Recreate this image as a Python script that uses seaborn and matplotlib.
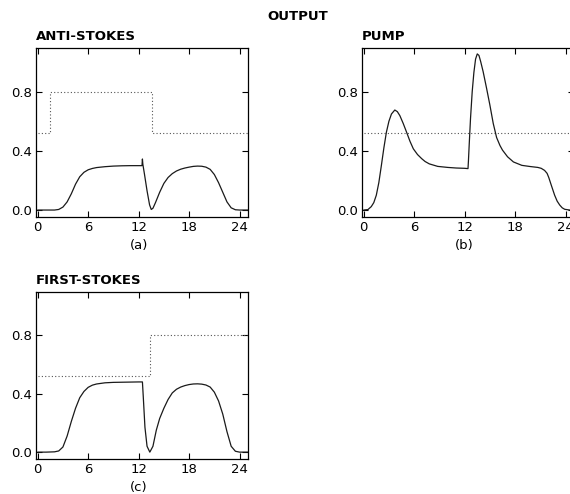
import matplotlib
matplotlib.use("Agg")
import matplotlib.pyplot as plt
import seaborn as sns

# Time axis labels / ticks
x_ticks = [0, 6, 12, 18, 24]
y_ticks = [0.0, 0.4, 0.8]
y_tick_labels = ["0.0", "0.4", "0.8"]

# (a) anti-Stokes output
as_t = [0, 1, 2, 2.5, 3, 3.5, 4, 4.5, 5, 5.5, 6, 6.5, 7, 8, 9, 10, 11, 12,
        12.4, 12.45, 12.5, 12.7, 13.0, 13.3, 13.5, 13.7, 14.0, 14.5, 15,
        15.5, 16, 16.5, 17, 17.5, 18, 18.5, 19, 19.5, 20, 20.5, 21, 21.5,
        22, 22.5, 23, 23.5, 24, 25]
as_v = [0, 0, 0, 0.004, 0.02, 0.055, 0.11, 0.175, 0.225, 0.255, 0.272, 0.281,
        0.287, 0.293, 0.297, 0.299, 0.3, 0.3,
        0.3, 0.345, 0.31, 0.24, 0.13, 0.035, 0.004, 0.012, 0.05, 0.12, 0.18,
        0.22, 0.246, 0.264, 0.276, 0.284, 0.29, 0.295, 0.297, 0.296, 0.29,
        0.275, 0.24, 0.185, 0.12, 0.055, 0.015, 0.002, 0, 0]
as_ref_t = [0, 1.5, 13.6, 25]
as_ref_v = [0.52, 0.80, 0.52, 0.52]

# (b) pump output
pp_t = [0, 0.5, 0.9, 1.2, 1.5, 1.8, 2.1, 2.4, 2.7, 3.0, 3.3, 3.7, 4.0, 4.3,
        4.7, 5.1, 5.5, 5.9, 6.4, 6.9, 7.3, 7.8, 8.8, 10, 11, 12.0, 12.4,
        12.45, 12.55, 12.7, 12.9, 13.1, 13.3, 13.5, 13.7, 13.9, 14.2, 14.6,
        15.0, 15.4, 15.8, 16.2, 16.5, 17.1, 17.8, 18.8, 19.8, 20.7, 21.1,
        21.5, 21.8, 22.0, 22.3, 22.7, 23.0, 23.3, 23.6, 23.9, 24.5, 25]
pp_v = [0, 0.003, 0.023, 0.05, 0.10, 0.185, 0.30, 0.42, 0.526, 0.60, 0.649,
        0.676, 0.665, 0.638, 0.585, 0.526, 0.465, 0.414, 0.375, 0.347, 0.328,
        0.312, 0.295, 0.288, 0.284, 0.282, 0.28,
        0.33, 0.45, 0.62, 0.80, 0.93, 1.02, 1.055, 1.045, 1.005, 0.935, 0.825,
        0.71, 0.585, 0.49, 0.436, 0.405, 0.36, 0.325, 0.302, 0.294, 0.288,
        0.282, 0.268, 0.248, 0.22, 0.168, 0.10, 0.06, 0.034, 0.015, 0.005, 0,
        0]
pp_ref_t = [0, 25]
pp_ref_v = [0.52, 0.52]

# (c) first-Stokes output
fs_t = [0, 1, 2, 2.5, 3, 3.5, 4, 4.5, 5, 5.5, 6, 6.5, 7, 8, 9, 10, 11, 12,
        12.45, 12.55, 12.75, 13.0, 13.33, 13.7, 14.1, 14.5, 15, 15.5, 16,
        16.5, 17, 17.5, 18, 18.5, 19, 19.5, 20, 20.5, 21, 21.5, 22, 22.5,
        23, 23.5, 24, 25]
fs_v = [0, 0, 0.002, 0.008, 0.035, 0.11, 0.21, 0.30, 0.372, 0.415, 0.443,
        0.458, 0.466, 0.474, 0.477, 0.478, 0.479, 0.48,
        0.48, 0.38, 0.17, 0.04, 0, 0.04, 0.15, 0.23, 0.3, 0.36, 0.405, 0.43,
        0.445, 0.455, 0.462, 0.466, 0.467, 0.465, 0.459, 0.445, 0.41, 0.35,
        0.26, 0.14, 0.04, 0.006, 0, 0]
fs_ref_t = [0, 13.3, 25]
fs_ref_v = [0.52, 0.80, 0.80]

sns.set_theme(style="ticks")
plt.rcParams["font.family"] = ["DejaVu Sans"]
plt.rcParams["text.color"] = "black"
plt.rcParams["xtick.color"] = "black"
plt.rcParams["ytick.color"] = "black"

W, H = 570, 494
fig = plt.figure(figsize=(W / 100, H / 100), dpi=100)


def px_axes(left, top, right, bottom):
    return fig.add_axes([left / W, 1 - bottom / H, (right - left) / W,
                         (bottom - top) / H])


panels = [
    (px_axes(36, 48, 248, 217), as_t, as_v, as_ref_t, as_ref_v,
     "ANTI-STOKES", "(a)"),
    (px_axes(362, 48, 574, 217), pp_t, pp_v, pp_ref_t, pp_ref_v,
     "PUMP", "(b)"),
    (px_axes(36, 292, 248, 459), fs_t, fs_v, fs_ref_t, fs_ref_v,
     "FIRST-STOKES", "(c)"),
]

for ax, t, v, rt, rv, title, tag in panels:
    sns.lineplot(x=rt, y=rv, ax=ax, color="#555555", linewidth=0.8,
                 linestyle=(0, (1, 2)), drawstyle="steps-post",
                 estimator=None, sort=False)
    sns.lineplot(x=t, y=v, ax=ax, color="#1a1a1a", linewidth=0.9,
                 estimator=None, sort=False)
    ax.set_xlim(-0.2, 25)
    ax.set_ylim(-0.047, 1.095)
    ax.set_xticks(x_ticks)
    ax.set_xticklabels([str(x) for x in x_ticks])
    ax.set_yticks(y_ticks)
    ax.set_yticklabels(y_tick_labels)
    ax.set_xlabel("")
    ax.set_ylabel("")
    ax.tick_params(direction="in", top=True, right=True, length=4,
                   width=0.8, labelsize=9.5, pad=3, colors="black")
    for sp in ax.spines.values():
        sp.set_visible(True)
        sp.set_linewidth(0.9)
        sp.set_color("black")
    ax.text(0, 1.07, title, transform=ax.transAxes, ha="left", va="center",
            fontsize=9.5, fontweight="bold", color="black")
    ax.text(12, -0.17, tag, transform=ax.get_xaxis_transform(),
            ha="center", va="center", fontsize=9.5, color="black")

fig.text(298 / W, 1 - 16.5 / H, "OUTPUT", ha="center", va="center",
         fontsize=9.5, fontweight="bold", color="black")

fig.savefig("out.png", dpi=100)
